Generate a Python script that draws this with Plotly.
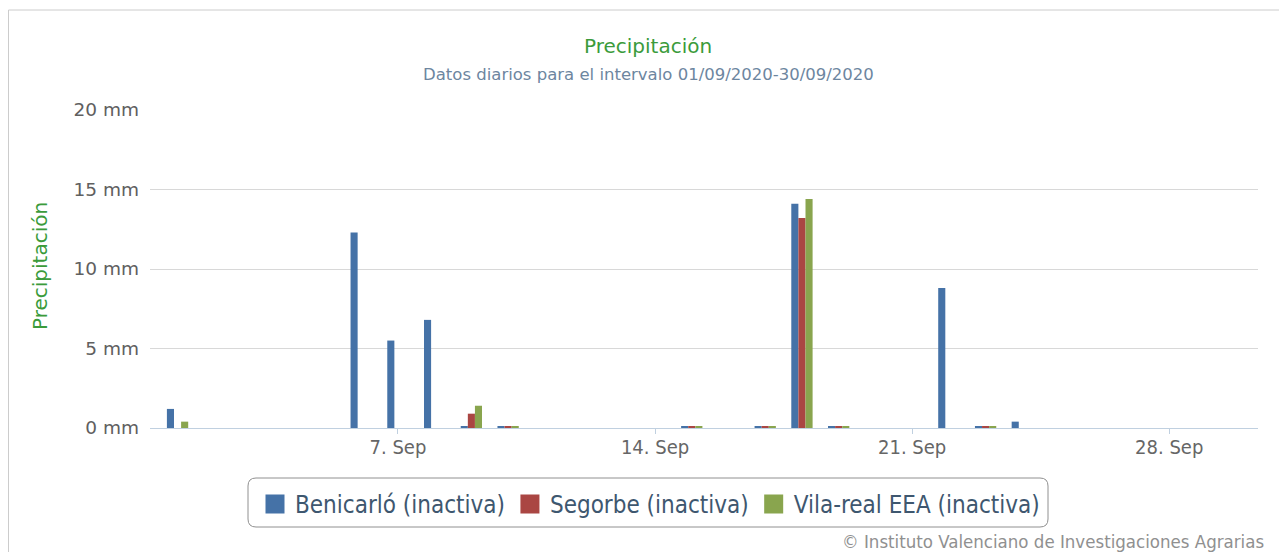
import plotly.graph_objects as go

dates = [f"2020-09-{d:02d}" for d in range(1, 31)]
benicarlo = [1.2, 0, 0, 0, 0, 12.3, 5.5, 6.8, 0.1, 0.1, 0, 0, 0, 0, 0.1,
             0, 0.1, 14.1, 0.1, 0, 0, 8.8, 0.1, 0.4, 0, 0, 0, 0, 0, 0]
segorbe = [0, 0, 0, 0, 0, 0, 0, 0, 0.9, 0.1, 0, 0, 0, 0, 0.1,
           0, 0.1, 13.2, 0.1, 0, 0, 0, 0.1, 0, 0, 0, 0, 0, 0, 0]
vilareal = [0.4, 0, 0, 0, 0, 0, 0, 0, 1.4, 0.1, 0, 0, 0, 0, 0.1,
            0, 0.1, 14.4, 0.1, 0, 0, 0, 0.1, 0, 0, 0, 0, 0, 0, 0]
series_names = ["Benicarló (inactiva)", "Segorbe (inactiva)", "Vila-real EEA (inactiva)"]
colors = ["#4572A7", "#AA4643", "#89A54E"]
y_ticks = [0, 5, 10, 15, 20]
y_tick_text = ["0 mm", "5 mm", "10 mm", "15 mm", "20 mm"]
x_ticks = ["2020-09-07", "2020-09-14", "2020-09-21", "2020-09-28"]

OFF = 8  # page body margin
W, H = 1287 - OFF, 552 - OFF
PL, PR, PT, PB = 150, 1258, 110, 428  # plot area in page pixels
L, R, T, B = PL - OFF, W - (PR - OFF), PT - OFF, H - (PB - OFF)
pw, ph = W - L - R, H - T - B


def px(x):
    return (x - OFF - L) / pw


def py(y):
    return (H - B - (y - OFF)) / ph


def rounded_rect(x0, y0, x1, y1, r):
    X0, X1 = px(x0), px(x1)
    Y0, Y1 = py(y0), py(y1)  # Y0 top (larger), Y1 bottom
    rx, ry = r / pw, r / ph
    return (f"M {X0+rx} {Y0} L {X1-rx} {Y0} Q {X1} {Y0} {X1} {Y0-ry} "
            f"L {X1} {Y1+ry} Q {X1} {Y1} {X1-rx} {Y1} "
            f"L {X0+rx} {Y1} Q {X0} {Y1} {X0} {Y1+ry} "
            f"L {X0} {Y0-ry} Q {X0} {Y0} {X0+rx} {Y0} Z")


fig = go.Figure()
for name, vals, c in zip(series_names, [benicarlo, segorbe, vilareal], colors):
    fig.add_trace(go.Bar(x=dates, y=vals, name=name, marker_color=c,
                         marker_line_width=0, showlegend=False, legendgroup=name))
for name, c in zip(series_names, colors):
    fig.add_trace(go.Scatter(x=[None], y=[None], mode="markers", name=name,
                             legendgroup=name,
                             marker=dict(symbol="square", size=16, color=c,
                                         line=dict(color=c, width=3))))

fig.update_layout(
    width=W, height=H,
    margin=dict(l=L, r=R, t=T, b=B, autoexpand=False),
    paper_bgcolor="white", plot_bgcolor="white",
    barmode="group", bargap=0.42, bargroupgap=0.0,
    font=dict(family="DejaVu Sans, sans-serif", color="#666666"),
    showlegend=True,
    legend=dict(orientation="h", x=px(650), xanchor="center", y=py(482), yanchor="top",
                font=dict(size=24, color="#3E576F",
                          family="DejaVu Sans Condensed, DejaVu Sans, sans-serif"),
                borderwidth=0, bgcolor="rgba(0,0,0,0)", itemsizing="trace",
                itemwidth=30, traceorder="normal"),
    xaxis=dict(type="date", range=["2020-08-31 06:00", "2020-09-30 10:00"],
               tickvals=x_ticks, tickformat="%-d. %b",
               ticks="outside", ticklen=5, tickcolor="#C0D0E0",
               ticklabelstandoff=-4,
               showgrid=False, showline=True, linecolor="#C0D0E0", linewidth=1,
               tickfont=dict(size=20, color="#666666",
                             family="DejaVu Sans Condensed, DejaVu Sans, sans-serif"),
               zeroline=False),
    yaxis=dict(range=[0, 20], tickmode="array", tickvals=y_ticks, ticktext=y_tick_text,
               showgrid=True, gridcolor="#D8D8D8", gridwidth=1,
               zeroline=False, showline=False, ticks="",
               ticklabelstandoff=10,
               tickfont=dict(size=18.5, color="#606060")),
    annotations=[
        dict(text="Precipitación", x=px(648), y=py(46), xref="paper", yref="paper",
             showarrow=False, xanchor="center", yanchor="middle",
             font=dict(size=20, color="#3B9B3B")),
        dict(text="Datos diarios para el intervalo 01/09/2020-30/09/2020",
             x=px(648), y=py(75), xref="paper", yref="paper",
             showarrow=False, xanchor="center", yanchor="middle",
             font=dict(size=16.5, color="#6D869F")),
        dict(text="Precipitación", x=px(40), y=py(266), xref="paper", yref="paper",
             showarrow=False, xanchor="center", yanchor="middle", textangle=-90,
             font=dict(size=20, color="#3B9B3B")),
        dict(text="© Instituto Valenciano de Investigaciones Agrarias",
             x=px(1266), y=py(541), xref="paper", yref="paper",
             showarrow=False, xanchor="right", yanchor="middle",
             font=dict(size=18.5, color="#909090",
                       family="DejaVu Sans Condensed, DejaVu Sans, sans-serif")),
    ],
    shapes=[
        dict(type="rect", xref="paper", yref="paper",
             x0=px(8.5), x1=px(1300), y0=py(560), y1=py(10),
             line=dict(color="#CCCCCC", width=1), fillcolor="rgba(0,0,0,0)", layer="below"),
        dict(type="path", xref="paper", yref="paper",
             path=rounded_rect(248, 478, 1048, 527, 8),
             line=dict(color="#909090", width=1), fillcolor="rgba(0,0,0,0)", layer="below"),
    ],
)

fig.write_html("out.html")
